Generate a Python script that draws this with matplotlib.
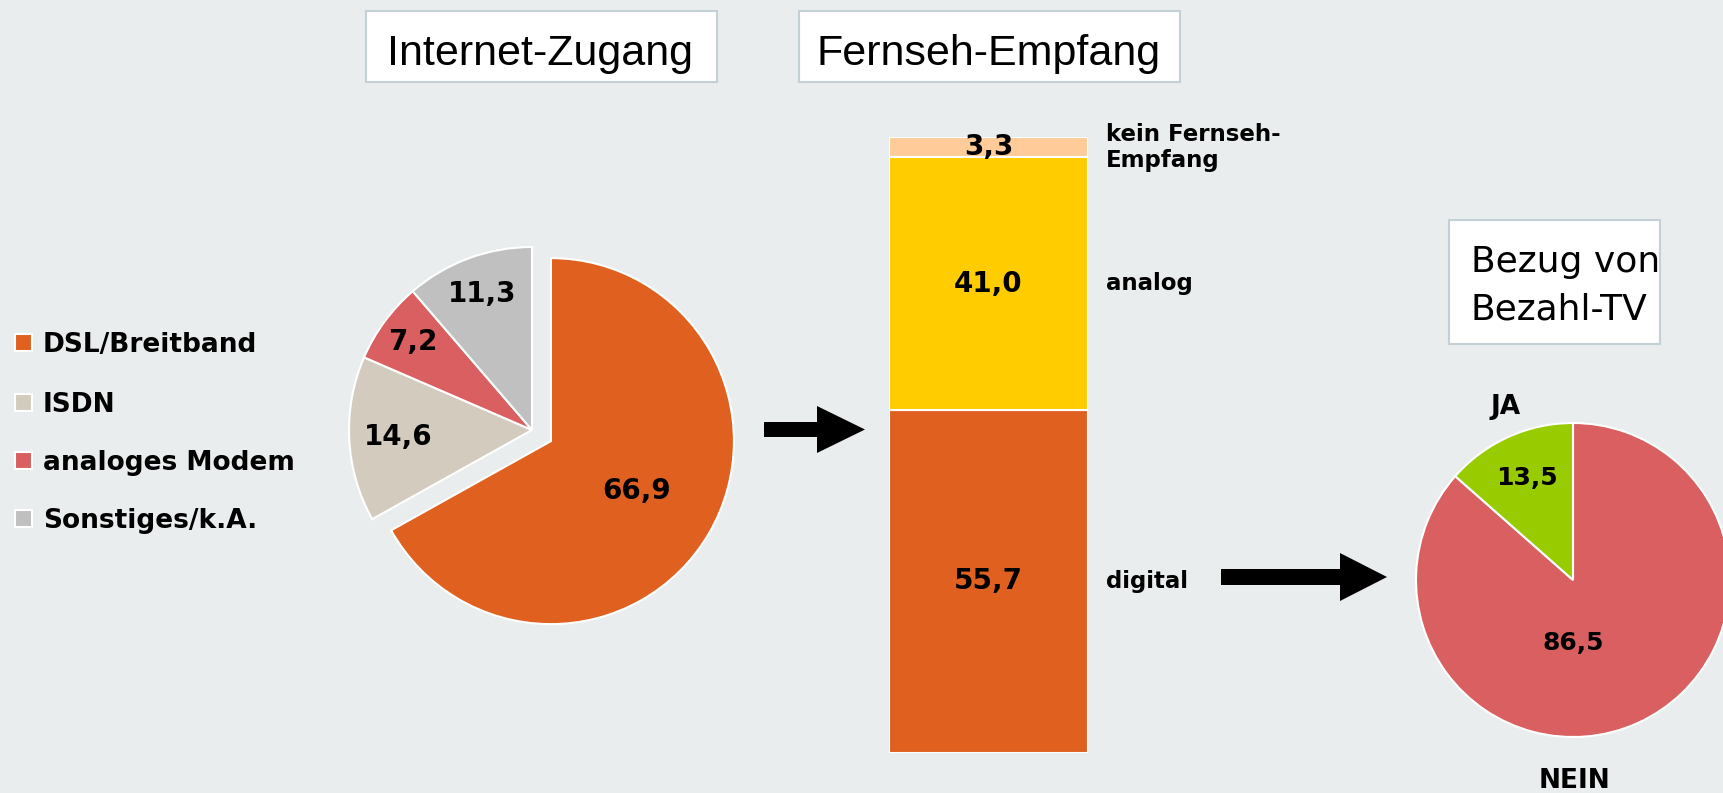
import matplotlib
matplotlib.use("Agg")
import matplotlib.pyplot as plt
import matplotlib.transforms as mtransforms
from matplotlib.patches import Rectangle, FancyArrow
import numpy as np

# ---------------- data ----------------
internet_labels = ["DSL/Breitband", "ISDN", "analoges Modem", "Sonstiges/k.A."]
internet_values = [66.9, 14.6, 7.2, 11.3]
internet_colors = ["#E06020", "#D3CBBE", "#D95F60", "#C0C0C0"]

tv_labels = ["digital", "analog", "kein Fernseh-\nEmpfang"]
tv_values = [55.7, 41.0, 3.3]
tv_colors = ["#E06020", "#FFCC00", "#FFCC99"]

paytv_labels = ["NEIN", "JA"]
paytv_values = [86.5, 13.5]
paytv_colors = ["#D95F60", "#99CC00"]

titles = ["Internet-Zugang", "Fernseh-Empfang", "Bezug von\nBezahl-TV"]


def fmt(v):
    return f"{v:.1f}".replace(".", ",")


# ---------------- figure ----------------
W, H = 1724, 793
BG = "#E9EDEE"
fig = plt.figure(figsize=(W / 100, H / 100), dpi=100, facecolor=BG)

BOLD = dict(family="DejaVu Sans", fontweight="bold", color="black")
TITLE_FONT = ["Liberation Sans", "DejaVu Sans"]

# overlay axes in pixel coordinates (y down)
ov = fig.add_axes([0, 0, 1, 1])
ov.set_xlim(0, W)
ov.set_ylim(H, 0)
ov.axis("off")
ov.patch.set_visible(False)


def pie_axes(cx, cy, r, lim=1.25):
    half = r * lim
    ax = fig.add_axes([(cx - half) / W, (H - cy - half) / H, 2 * half / W, 2 * half / H])
    return ax, lim


# ---------------- Internet pie ----------------
ax1, lim = pie_axes(532, 430, 183)
wedges1, _ = ax1.pie(internet_values, colors=internet_colors, startangle=90,
                     counterclock=False, explode=[0.12, 0, 0, 0], radius=1,
                     wedgeprops=dict(edgecolor="white", linewidth=1.5))
ax1.set_xlim(-lim, lim)
ax1.set_ylim(-lim, lim)
ax1.set_aspect("equal")
label_dist1 = [0.54, 0.73, 0.81, 0.79]
for w, v, d in zip(wedges1, internet_values, label_dist1):
    ang = np.deg2rad((w.theta1 + w.theta2) / 2)
    cx, cy = w.center
    ax1.text(cx + d * np.cos(ang), cy + d * np.sin(ang), fmt(v), ha="center",
             va="center", fontsize=20, **BOLD)

# legend (manual)
leg_y = [345, 405, 463, 521]
for lab, col, y in zip(internet_labels, internet_colors, leg_y):
    ov.add_patch(Rectangle((15, y - 11), 17, 17, facecolor=col, edgecolor="white",
                           linewidth=1.5))
    ov.text(43, y, lab, ha="left", va="center", fontsize=19, **BOLD)

# ---------------- TV stacked bar ----------------
axb = fig.add_axes([889 / W, (H - 753) / H, 199 / W, 616 / H])
bottoms = np.concatenate([[0], np.cumsum(tv_values)[:-1]])
axb.bar([0] * len(tv_values), tv_values, bottom=bottoms, width=1.0, color=tv_colors,
        edgecolor="white", linewidth=1.5)
axb.set_xlim(-0.5, 0.5)
axb.set_ylim(0, 100)
axb.axis("off")
trans = mtransforms.blended_transform_factory(axb.transAxes, axb.transData)
for v, b, lab in zip(tv_values, bottoms, tv_labels):
    axb.text(0, b + v / 2, fmt(v), ha="center", va="center", fontsize=20, **BOLD)
    axb.text(1.09, b + v / 2, lab, ha="left", va="center", fontsize=16.5,
             transform=trans, linespacing=1.15, **BOLD)

# ---------------- Pay-TV pie ----------------
ax2, lim2 = pie_axes(1573, 580, 157, lim=1.4)
wedges2, _ = ax2.pie(paytv_values, colors=paytv_colors, startangle=90,
                     counterclock=False, radius=1,
                     wedgeprops=dict(edgecolor="white", linewidth=1.5))
ax2.set_xlim(-lim2, lim2)
ax2.set_ylim(-lim2, lim2)
ax2.set_aspect("equal")
# value labels
w_ja = wedges2[1]
ang = np.deg2rad((w_ja.theta1 + w_ja.theta2) / 2)
ax2.text(0.71 * np.cos(ang), 0.71 * np.sin(ang), fmt(paytv_values[1]), ha="center",
         va="center", fontsize=18, **BOLD)
ax2.text(0.0, -0.40, fmt(paytv_values[0]), ha="center", va="center", fontsize=18, **BOLD)
# category labels
ax2.text(-0.43, 1.10, paytv_labels[1], ha="center", va="center", fontsize=19, **BOLD)
ax2.text(0.01, -1.28, paytv_labels[0], ha="center", va="center", fontsize=19, **BOLD)

# ---------------- arrows ----------------
ov.add_patch(FancyArrow(764, 429.5, 865 - 764, 0, width=15, head_width=47,
                        head_length=48, length_includes_head=True,
                        facecolor="black", edgecolor="none"))
ov.add_patch(FancyArrow(1221, 577, 1387 - 1221, 0, width=16, head_width=48,
                        head_length=47, length_includes_head=True,
                        facecolor="black", edgecolor="none"))

# ---------------- title boxes ----------------
boxes = [(366, 11, 717, 82), (799, 11, 1180, 82), (1449, 220, 1660, 344)]
for (x0, y0, x1, y1) in boxes:
    ov.add_patch(Rectangle((x0, y0), x1 - x0, y1 - y0, facecolor="white",
                           edgecolor="#C3D0D5", linewidth=1.5))
# single-line titles
for (x0, y0, x1, y1), t in zip(boxes[:2], titles[:2]):
    ov.text((x0 + x1) / 2 - 1, 65, t, ha="center", va="baseline",
            fontsize=31, family=TITLE_FONT, color="black")
# two-line title
for line, base in zip(titles[2].split("\n"), [272, 320]):
    ov.text(1471, base, line, ha="left", va="baseline", fontsize=26,
            family="DejaVu Sans", color="black")

fig.savefig("out.png", dpi=100, facecolor=BG)
